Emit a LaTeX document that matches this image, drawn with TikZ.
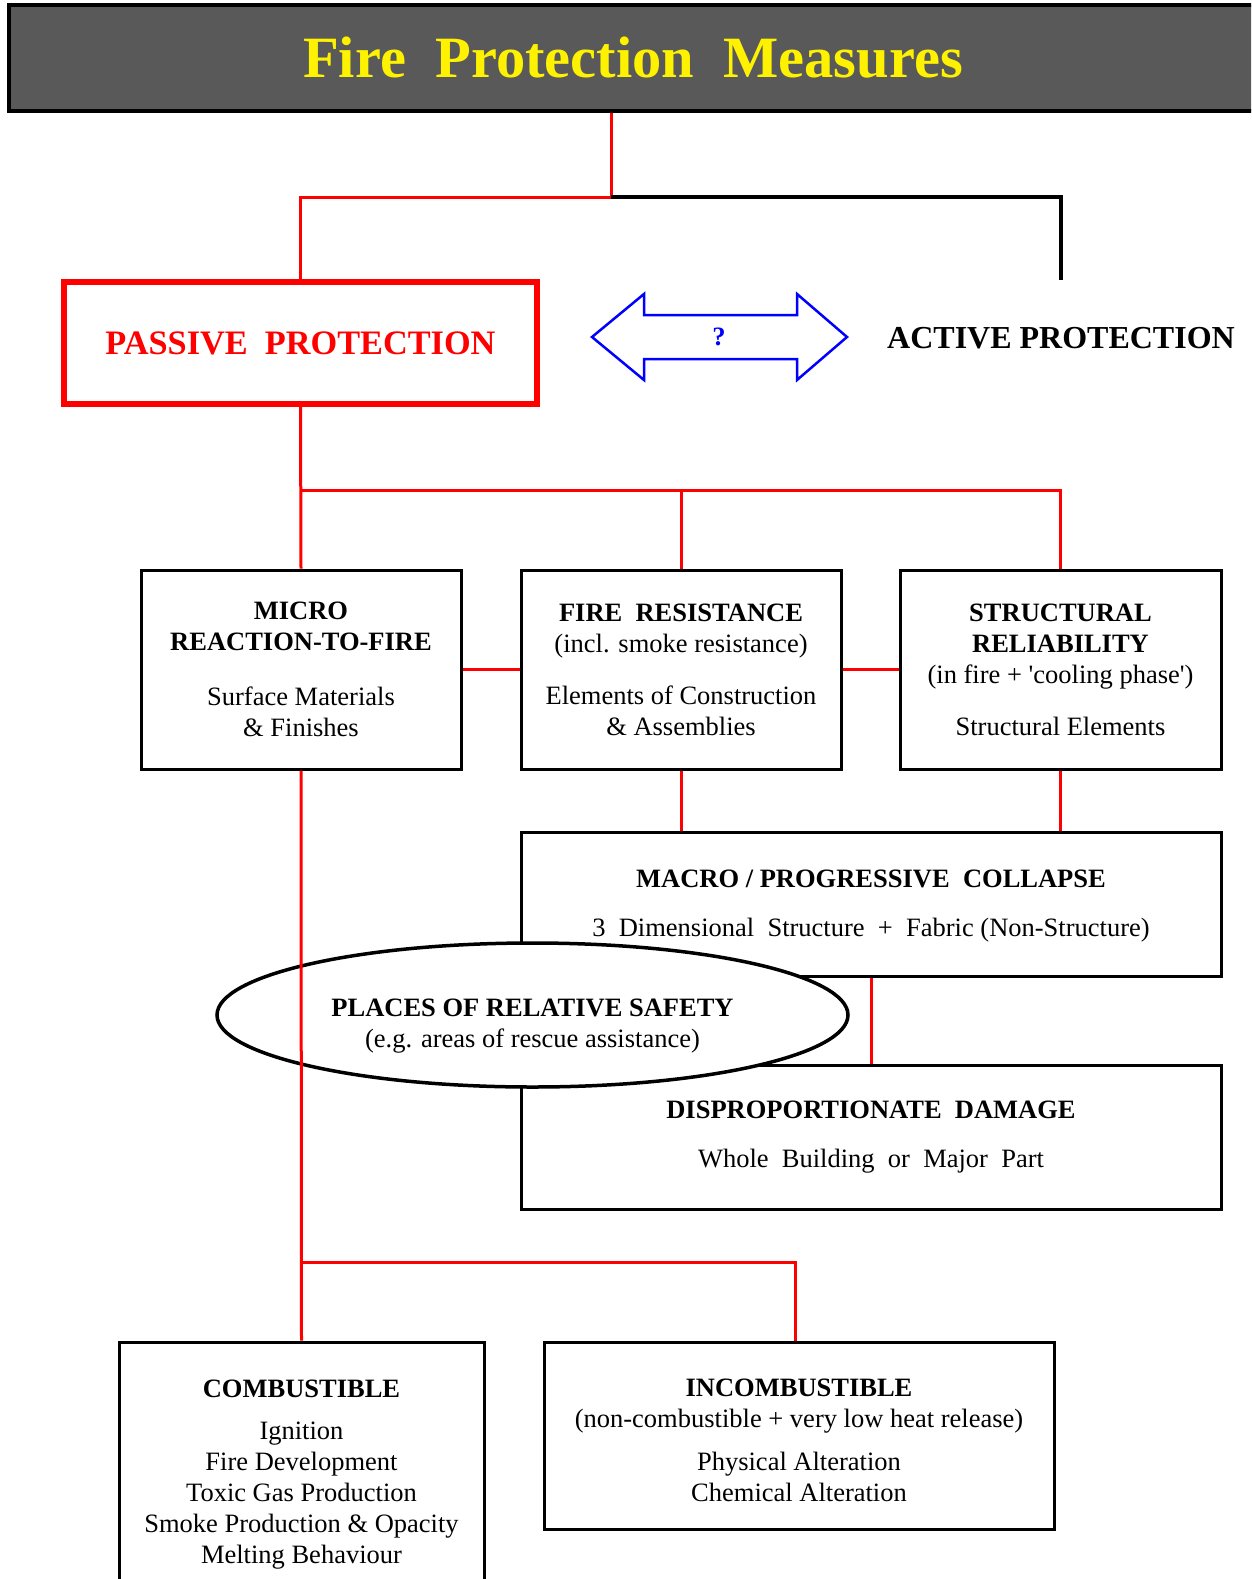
\documentclass[tikz,border=0pt]{standalone}
\usepackage{fontspec}
\setmainfont{Liberation Serif}
\usetikzlibrary{shapes.geometric}
\definecolor{titlegray}{RGB}{89,89,89}
\definecolor{pureblue}{RGB}{0,0,255}
\definecolor{purered}{RGB}{255,0,0}
\newcommand{\txt}{\fontsize{26.5}{31}\selectfont}

\begin{document}
\begin{tikzpicture}[x=1pt,y=-1pt,
  box/.style={draw,line width=3pt,align=center,inner sep=0pt,font=\txt},
  redline/.style={purered,line width=3pt},
  blackline/.style={black,line width=3.5pt}]
\clip (0,0) rectangle (1251,1579);
\node[draw,fill=titlegray,line width=4pt,minimum width=1248pt,minimum height=106pt,
  text=yellow,font=\fontsize{58.5}{70}\selectfont\bfseries] (title) at (633,58) {Fire~~Protection~~Measures};
\node[draw=purered,line width=5.5pt,minimum width=473pt,minimum height=122pt,
  text=purered,font=\fontsize{34.3}{40}\selectfont\bfseries] (passive) at (300.5,343) {PASSIVE~~PROTECTION};
\node[minimum height=116pt,inner sep=0pt,font=\fontsize{32}{38}\selectfont\bfseries] (active) at (1061,338) {ACTIVE PROTECTION};
\coordinate (split) at (611,197);
\draw[redline] (split |- title.south) -- (split) -| (passive.north);
\draw[blackline] (split) -| (active.north);
\node[text=pureblue,font=\txt\bfseries] (qmark) at (719,337) {?};
\draw[pureblue,line width=2.5pt,line join=miter] (592,337) -- (644,294) -- (644,315) -- (797,315) -- (797,294)
  -- (847,337) -- (797,380) -- (797,359) -- (644,359) -- (644,380) -- cycle;
\node[box,minimum width=320pt,minimum height=199pt] (micro) at (301,669.5)
  {\textbf{MICRO}\\\textbf{REACTION-TO-FIRE}\\[24.5pt]Surface Materials\\\& Finishes};
\node[box,minimum width=320pt,minimum height=199pt] (resist) at (681,669.5)
  {\textbf{FIRE~~RESISTANCE}\\(incl. smoke resistance)\\[21pt]Elements of Construction\\\& Assemblies};
\node[box,minimum width=321pt,minimum height=199pt] (reliab) at (1060.5,669.5)
  {\textbf{STRUCTURAL}\\\textbf{RELIABILITY}\\(in fire + \textquotesingle cooling phase\textquotesingle)\\[21pt]Structural Elements};
\node[box,minimum width=700pt,minimum height=144pt] (macro) at (871,904)
  {\rule{0pt}{21pt}\textbf{MACRO / PROGRESSIVE~~COLLAPSE}\\[18pt]3~~Dimensional~~Structure~~+~~Fabric (Non-Structure)};
\node[box,minimum width=700pt,minimum height=144pt] (damage) at (871,1137)
  {\textbf{DISPROPORTIONATE~~DAMAGE}\\[18pt]Whole~~Building~~or~~Major~~Part};
\node[box,ellipse,fill=white,line width=3.5pt,minimum width=631pt,minimum height=144pt] (safety) at (532.5,1015)
  {\rule{0pt}{39pt}\textbf{PLACES OF RELATIVE SAFETY}\\(e.g. areas of rescue assistance)};
\node[box,minimum width=365pt,minimum height=258pt] (combust) at (301.5,1471)
  {\rule{0pt}{24pt}\textbf{COMBUSTIBLE}\\[11pt]Ignition\\Fire Development\\Toxic Gas Production\\Smoke Production \& Opacity\\Melting Behaviour};
\node[box,minimum width=510pt,minimum height=187pt] (incomb) at (799,1435.5)
  {\rule{0pt}{28pt}\textbf{INCOMBUSTIBLE}\\(non-combustible + very low heat release)\\[12pt]Physical Alteration\\Chemical Alteration};
\coordinate (bus) at (0,490);
\coordinate (bus2) at (0,1262);
\draw[redline] (passive.south) -- (micro.north);
\draw[redline] (bus -| micro.north) -| (resist.north) (bus -| resist.north) -| (reliab.north);
\draw[redline] (micro.east) -- (resist.west) (resist.east) -- (reliab.west);
\draw[redline] (resist.south) -- (resist.south |- macro.north) (reliab.south) -- (reliab.south |- macro.north);
\draw[redline] (macro.south) -- (damage.north);
\draw[redline] (micro.south) -- (combust.north);
\draw[redline] (bus2 -| micro.south) -| ([xshift=-4pt]incomb.north);
\end{tikzpicture}
\end{document}
